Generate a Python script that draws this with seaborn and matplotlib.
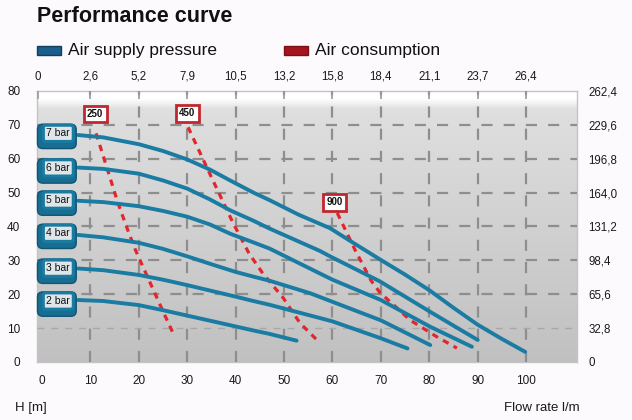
import numpy as np
import pandas as pd
import matplotlib
matplotlib.use("Agg")
import matplotlib.pyplot as plt
from matplotlib.patches import Rectangle, FancyBboxPatch
import seaborn as sns

# ---------------- data ----------------
pressures = ["7 bar", "6 bar", "5 bar", "4 bar", "3 bar", "2 bar"]
flow_7 = [7.5, 12.7, 20, 25, 30, 34.7, 39, 43.7, 47, 53, 59.5, 64.5, 69.8, 75, 80, 85, 90, 95, 99.8]
head_7 = [67, 66.3, 64.3, 62.3, 59.8, 56.8, 53.5, 50, 47.8, 43.5, 39.5, 35, 30.3, 25.8, 21.2, 16, 11, 6.8, 3]
flow_6 = [7.5, 12.7, 20, 25, 30, 34.7, 39, 43.7, 47, 57.4, 59.5, 69.8, 80.2, 90]
head_6 = [57.4, 57, 55.6, 53.6, 51.2, 48, 44.7, 41.7, 39.4, 32.8, 31.2, 23.8, 14.8, 6.5]
flow_5 = [7.5, 12.7, 20, 25, 30, 34.7, 39, 43.7, 47, 60, 70, 80.2, 88.8]
head_5 = [47.6, 47.2, 46, 44.6, 42.9, 40.6, 37.8, 35.3, 33.5, 24.3, 18.3, 10.4, 4.5]
flow_4 = [7.5, 12.7, 20, 25, 30, 34.7, 40, 43.7, 47, 55.4, 70, 80.2]
head_4 = [37.5, 36.8, 35.2, 33.4, 31.2, 29, 26.6, 25.2, 24, 20.3, 12.3, 5]
flow_3 = [7.5, 12.7, 20, 25, 30, 34.7, 40, 43.7, 47, 60, 70, 75.5]
head_3 = [27.6, 27.1, 25.7, 24.3, 22.7, 21.1, 19.3, 18, 16.9, 12, 7, 4]
flow_2 = [7.5, 12.7, 20, 25, 30, 34.7, 40, 43.7, 47, 52.6]
head_2 = [18.3, 18, 16.8, 15.3, 13.7, 12.2, 10.5, 9.3, 8.3, 6.3]

consumption = ["250", "450", "900"]
cons_flow_250 = [11.2, 13.4, 15.7, 17.6, 19.2, 20.6, 25, 27.1]
cons_head_250 = [67.5, 57.5, 47, 39.5, 33.5, 29, 15, 8.5]
cons_flow_450 = [30.2, 35, 39.5, 42.8, 45.7, 49.8, 53.3, 56.8]
cons_head_450 = [69.3, 54.6, 41, 32, 26, 19, 11.5, 6.5]
cons_flow_900 = [61, 64.7, 68, 69.8, 73.3, 76, 81.6, 85.7]
cons_head_900 = [44, 33, 24, 20.5, 16, 12.4, 7.4, 4.1]

bottom_ticks = [0, 10, 20, 30, 40, 50, 60, 70, 80, 90, 100]
top_tick_labels = ["0", "2,6", "5,2", "7,9", "10,5", "13,2", "15,8", "18,4", "21,1", "23,7", "26,4"]
left_ticks = [0, 10, 20, 30, 40, 50, 60, 70, 80]
right_ticks = [0, 32.8, 65.6, 98.4, 131.2, 164.0, 196.8, 229.6, 262.4]
right_tick_labels = ["0", "32,8", "65,6", "98,4", "131,2", "164,0", "196,8", "229,6", "262,4"]

pump_flows = [flow_7, flow_6, flow_5, flow_4, flow_3, flow_2]
pump_heads = [head_7, head_6, head_5, head_4, head_3, head_2]
cons_flows = [cons_flow_250, cons_flow_450, cons_flow_900]
cons_heads = [cons_head_250, cons_head_450, cons_head_900]

rows = []
for name, fx, hy in zip(pressures, pump_flows, pump_heads):
    for a, b in zip(fx, hy):
        rows.append((name, a, b))
df_pump = pd.DataFrame(rows, columns=["pressure", "flow", "head"])
rows = []
for name, fx, hy in zip(consumption, cons_flows, cons_heads):
    for a, b in zip(fx, hy):
        rows.append((name, a, b))
df_cons = pd.DataFrame(rows, columns=["consumption", "flow", "head"])

# ---------------- style ----------------
sns.set_style("white")
plt.rcParams["font.family"] = ["Liberation Sans", "DejaVu Sans"]

BLUE = "#1a7ba3"
RED = "#e3262c"
GRID = "#8e8e8e"
TXT = "#1a1a1a"
FIGBG = "#fdfafd"

W, H = 632, 420
fig = plt.figure(figsize=(W / 100, H / 100), dpi=100, facecolor=FIGBG)
ax = fig.add_axes([37 / W, 58 / H, 540 / W, 271 / H])
xmin, xmax = -1.0, 110.5
ax.set_xlim(xmin, xmax)
ax.set_ylim(0, 80)

# background gradient
ys = np.linspace(0, 80, 400)
g = np.where(ys <= 74.5, 0.755 + (0.875 - 0.755) * ys / 74.5,
             np.where(ys >= 77.5, 1.0, 0.875 + (1.0 - 0.875) * (ys - 74.5) / 3.0))
img = np.repeat(g[:, None, None], 3, axis=2)
ax.imshow(img, extent=[xmin, xmax, 0, 80], origin="lower", aspect="auto",
          zorder=0, interpolation="bilinear")

# grid
ax.set_xticks(bottom_ticks)
ax.set_yticks(left_ticks)
ax.grid(True, color=GRID, linestyle=(0, (5, 5)), linewidth=1.6, zorder=1)
ax.set_axisbelow(False)
xg = ax.xaxis.get_gridlines()
xg[0].set_visible(False)
yg = ax.yaxis.get_gridlines()
yg[0].set_visible(False)
yg[-1].set_visible(False)
yg[1].set_linewidth(1.0)
yg[1].set_color("#a8a8a8")
for gl in xg + yg:
    gl.set_zorder(1)

# curves
sns.lineplot(data=df_pump, x="flow", y="head", hue="pressure",
             palette=[BLUE] * len(pressures), legend=False, sort=False, estimator=None,
             linewidth=2.8, ax=ax, zorder=4, solid_capstyle="round", solid_joinstyle="round")
sns.lineplot(data=df_cons, x="flow", y="head", hue="consumption",
             palette=[RED] * len(consumption), legend=False, sort=False, estimator=None,
             linewidth=2.3, ax=ax, zorder=3, linestyle=(0, (2.0, 1.8)))

# pressure label boxes (3D-ish teal box with light face)
label_x = 3.4
label_y = [67.5, 57.3, 47.8, 38, 27.7, 18]
bw, bh = 8.0, 7.2
for name, yy in zip(pressures, label_y):
    ax.add_patch(FancyBboxPatch((label_x - bw / 2 - 0.3, yy - bh / 2 - 0.9), bw, bh,
                                boxstyle="round,pad=0,rounding_size=1.1",
                                mutation_aspect=1.43, fc="#176e92", ec="#0f5574",
                                lw=1, zorder=5, clip_on=False))
    ax.text(label_x, yy, name, fontsize=7.5, color="#111111", ha="center", va="center",
            zorder=6, clip_on=False,
            bbox=dict(boxstyle="round,pad=0.3,rounding_size=0.2", fc="#dfe6ea", ec="#1b7aa0", lw=2.2))

# consumption labels
cons_label_x = [11, 30, 60.5]
cons_label_y = [73.2, 73.4, 47.2]
for name, xx, yy in zip(consumption, cons_label_x, cons_label_y):
    ax.text(xx, yy, name, fontsize=7, fontweight="bold", color="#111111", ha="center",
            va="center", zorder=6,
            bbox=dict(boxstyle="square,pad=0.35", fc="white", ec="#c0262d", lw=2))

# axes styling
for s in ax.spines.values():
    s.set_color("#c4c4c4")
    s.set_linewidth(1.0)
ax.tick_params(axis="both", length=0, labelsize=8.5, labelcolor=TXT)
ax.tick_params(axis="x", pad=9)
ax.tick_params(axis="y", pad=12)
ax.set_xlabel("")
ax.set_ylabel("")

# top axis
axt = ax.twiny()
axt.set_xlim(xmin, xmax)
axt.set_xticks([xmin + 0.2] + bottom_ticks[1:])
axt.set_xticklabels(top_tick_labels)
axt.tick_params(axis="x", direction="in", length=6, width=1.2, color="#9a9a9a",
                labelsize=8.3, labelcolor=TXT, pad=6)
for s in axt.spines.values():
    s.set_visible(False)

# right axis
axr = ax.twinx()
axr.set_ylim(0, 262.4)
axr.set_yticks(right_ticks)
axr.set_yticklabels(right_tick_labels)
axr.tick_params(axis="y", length=0, labelsize=8.3, labelcolor=TXT, pad=8)
for s in axr.spines.values():
    s.set_visible(False)
axr.grid(False)
axt.grid(False)

# title + legend
fig.text(37 / W, 1 - 17 / H, "Performance curve", fontsize=15.5, fontweight="bold",
         color="#111111", ha="left", va="center")
fig.patches.append(Rectangle((37 / W, 1 - 55 / H), 24 / W, 9 / H, transform=fig.transFigure,
                             fc="#1d5f8c", ec="#123f60", lw=1))
fig.text(68 / W, 1 - 50 / H, "Air supply pressure", fontsize=12.5, color="#111111",
         ha="left", va="center")
fig.patches.append(Rectangle((284 / W, 1 - 55 / H), 24 / W, 9 / H, transform=fig.transFigure,
                             fc="#a3161d", ec="#7d1015", lw=1))
fig.text(315 / W, 1 - 50 / H, "Air consumption", fontsize=12.5, color="#111111",
         ha="left", va="center")

# axis captions
fig.text(15 / W, 1 - 408 / H, "H [m]", fontsize=9.5, color=TXT, ha="left", va="center")
fig.text(580 / W, 1 - 408 / H, "Flow rate l/m", fontsize=9.5, color=TXT, ha="right", va="center")

fig.savefig("out.png", dpi=100, facecolor=FIGBG)
